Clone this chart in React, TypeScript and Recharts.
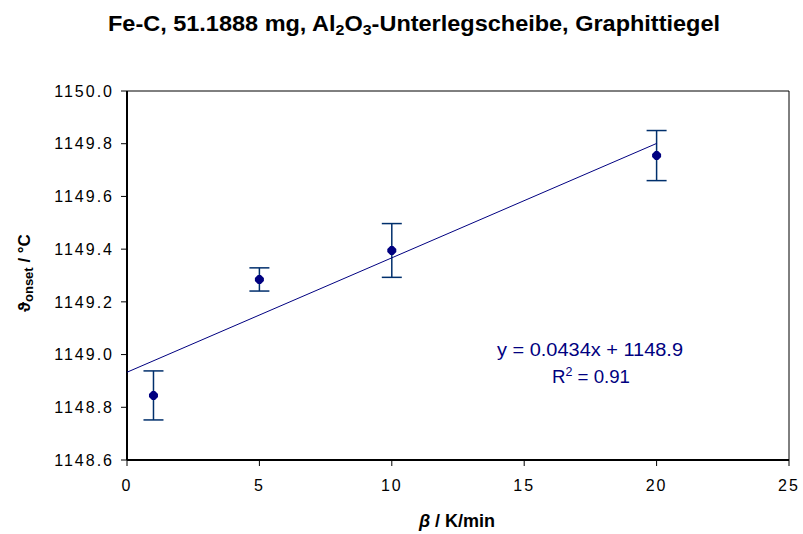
import React from 'react';
import { ScatterChart, Scatter, XAxis, YAxis, ErrorBar, ReferenceLine } from 'recharts';

// heating rate (K/min) vs onset temperature (°C)
const rates = [1, 5, 10, 20];
const onset = [1148.845, 1149.285, 1149.395, 1149.755];
const onsetErr = [0.093, 0.044, 0.102, 0.095];

// linear trendline end points
const trendX = [0, 20];
const trendY = [1148.933, 1149.801];

const xTicks = [0, 5, 10, 15, 20, 25];
const yTicks = [1148.6, 1148.8, 1149.0, 1149.2, 1149.4, 1149.6, 1149.8, 1150.0];

const points = rates.map((r, i) => ({ x: r, y: onset[i], err: onsetErr[i] }));
const trend = trendX.map((x, i) => ({ x, y: trendY[i] }));

const NAVY = '#000080';
const FONT = '"Liberation Sans", Arial, sans-serif';

// rounded diamond like the Excel marker
const Marker = (props: any) => {
  const { cx, cy } = props;
  if (cx == null || cy == null) return <g />;
  const s = 4.5;
  const c = 1.5;
  return (
    <path
      d={`M${cx - c},${cy - s} L${cx + c},${cy - s} L${cx + s},${cy - c} L${cx + s},${cy + c} L${cx + c},${cy + s} L${cx - c},${cy + s} L${cx - s},${cy + c} L${cx - s},${cy - c} Z`}
      fill={NAVY}
    />
  );
};

const NoMarker = () => <g />;

const tickStyle = { fontSize: 16, fill: '#000', fontFamily: FONT, letterSpacing: 2 };

export default function App() {
  return (
    <div style={{ position: 'absolute', left: 0, top: 0, width: 803, height: 534, background: '#fff' }}>
      <ScatterChart
        width={803}
        height={534}
        margin={{ top: 91, right: 14, bottom: 34, left: 47 }}
        style={{ fontFamily: FONT }}
      >
        <XAxis
          type="number"
          dataKey="x"
          domain={[0, 25]}
          ticks={xTicks}
          height={40}
          tick={tickStyle}
          tickSize={6}
          tickMargin={14}
          axisLine={{ stroke: '#000', strokeWidth: 2 }}
          tickLine={{ stroke: '#000', strokeWidth: 1 }}
          allowDataOverflow
        />
        <YAxis
          type="number"
          dataKey="y"
          domain={[1148.6, 1150]}
          ticks={yTicks}
          width={80}
          tick={tickStyle}
          tickSize={6}
          tickMargin={7}
          tickFormatter={(v: number) => v.toFixed(1)}
          axisLine={{ stroke: '#000', strokeWidth: 2 }}
          tickLine={{ stroke: '#000', strokeWidth: 1 }}
          allowDataOverflow
        />
        <ReferenceLine y={1150} stroke="#000" strokeWidth={1} />
        <ReferenceLine x={25} stroke="#000" strokeWidth={1} />
        <Scatter
          data={trend}
          fill={NAVY}
          line={{ stroke: NAVY, strokeWidth: 1 }}
          shape={NoMarker}
          isAnimationActive={false}
        />
        <Scatter data={points} fill={NAVY} shape={Marker} isAnimationActive={false}>
          <ErrorBar dataKey="err" direction="y" width={10} stroke="#002f6c" strokeWidth={1.5} />
        </Scatter>
      </ScatterChart>
      <svg
        width={803}
        height={534}
        style={{ position: 'absolute', left: 0, top: 0, pointerEvents: 'none', fontFamily: FONT }}
      >
        <text x={108} y={31} fontSize={22} fontWeight="bold" textLength={612} lengthAdjust="spacingAndGlyphs">
          Fe-C, 51.1888 mg, Al<tspan dy={4} fontSize={15}>2</tspan>
          <tspan dy={-4}>O</tspan>
          <tspan dy={4} fontSize={15}>3</tspan>
          <tspan dy={-4}>-Unterlegscheibe, Graphittiegel</tspan>
        </text>
        <text transform="translate(30,273) rotate(-90)" textAnchor="middle" fontSize={17} fontWeight="bold">
          ϑ<tspan dy={3} fontSize={13}>onset</tspan>
          <tspan dy={-3}> / °C</tspan>
        </text>
        <text x={457} y={527} textAnchor="middle" fontSize={18} fontWeight="bold">
          <tspan fontStyle="italic">β</tspan> / K/min
        </text>
        <text x={497} y={356} fontSize={18} fill={NAVY} textLength={186} lengthAdjust="spacingAndGlyphs">
          y = 0.0434x + 1148.9
        </text>
        <text x={552} y={383} fontSize={18} fill={NAVY} textLength={78} lengthAdjust="spacingAndGlyphs">
          R<tspan dy={-7} fontSize={12}>2</tspan>
          <tspan dy={7}> = 0.91</tspan>
        </text>
      </svg>
    </div>
  );
}
